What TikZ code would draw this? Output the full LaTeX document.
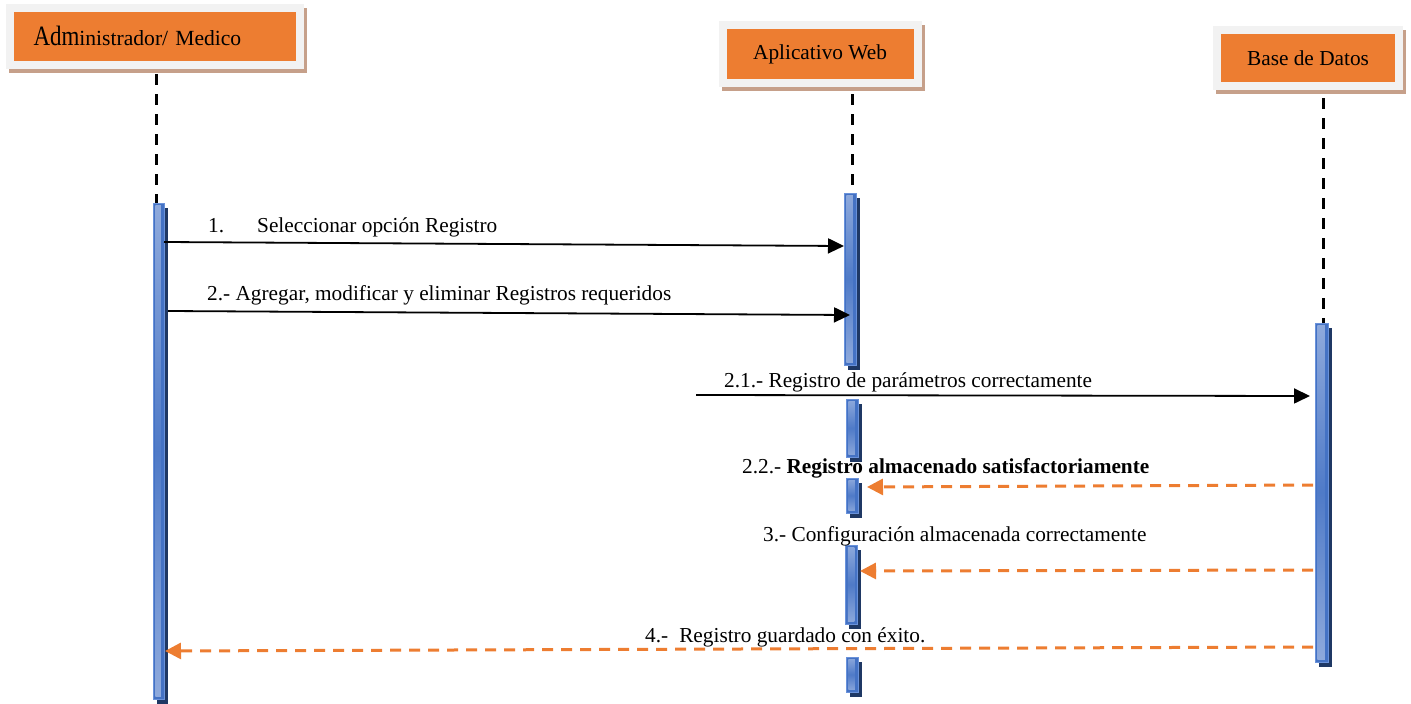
\documentclass[tikz,border=0pt]{standalone}
\usepackage{fontspec}
\setmainfont{Liberation Serif}
\usetikzlibrary{arrows.meta}
\definecolor{actorfill}{HTML}{ED7D31}
\definecolor{framegray}{HTML}{F2F2F2}
\definecolor{shadowtan}{RGB}{198,160,138}
\definecolor{barblue}{HTML}{4472C4}
\definecolor{barlight}{HTML}{8FAADC}
\definecolor{barborder}{HTML}{6A92DA}
\definecolor{barshadow}{HTML}{1F3864}
\definecolor{msgorange}{HTML}{ED7D31}
\begin{document}
\begin{tikzpicture}[x=1pt,y=-1pt,
  actor/.style={rectangle, fill=actorfill, draw=framegray, line width=8pt, inner sep=0pt,
    font=\fontsize{21.3}{24}\selectfont,
    preaction={draw=shadowtan, fill=shadowtan, line width=8pt, transform canvas={xshift=3pt,yshift=-4pt}}},
  actbar/.style={rectangle, inner sep=0pt, minimum width=12pt, fill=barblue, draw=barborder, line width=1pt,
    preaction={fill=barshadow, transform canvas={xshift=3.5pt,yshift=-5pt}},
    path picture={\shade[top color=barlight, bottom color=barlight, middle color=barblue!85!barlight]
      ([xshift=2.4pt,yshift=-2.4pt]path picture bounding box.north west) rectangle
      ([xshift=-3.2pt,yshift=2.4pt]path picture bounding box.south east);}},
  lifeline/.style={draw=black, line width=3pt, dash pattern=on 11pt off 9pt},
  msg/.style={draw=black, line width=1.8pt, -{Triangle[length=16pt,width=15pt]}},
  reply/.style={draw=msgorange, line width=3pt, dash pattern=on 11pt off 8pt,
    -{Triangle[length=16pt,width=16pt,fill=msgorange]}},
  lbl/.style={anchor=base west, inner sep=0pt, font=\fontsize{21.3}{24}\selectfont}]
\useasboundingbox (0,0) rectangle (1411,704);

% actors
\node[actor, minimum height=57pt, text width=242pt, inner xsep=24pt, align=left] (admin) at (154.5,36)
  {\scalebox{0.82}[1]{\fontsize{28}{30}\selectfont Adm}\fontsize{21.6}{24}\selectfont inistrador/ Medico};
\node[actor, minimum width=195pt, minimum height=57.5pt] (web) at (820,54) {Aplicativo Web};
\node[actor, minimum width=182.5pt, minimum height=56pt] (db) at (1308,58) {Base de Datos};

% activation bars
\node[actbar, minimum width=11pt, minimum height=496pt] (barA) at (158.5,451) {};
\node[actbar, minimum height=172pt] (barW1) at (850,279) {};
\node[actbar, minimum height=58pt] (barW2) at (852,428) {};
\node[actbar, minimum height=35pt] (barW3) at (852,495.5) {};
\node[actbar, minimum height=79pt] (barW4) at (851.5,584.5) {};
\node[actbar, minimum height=35pt] (barW5) at (852,674.5) {};
\node[actbar, minimum width=13pt, minimum height=339pt] (barB) at (1321.5,492.5) {};

% lifelines
\coordinate (la) at (156,74);
\coordinate (lw) at (852,94);
\coordinate (lb) at (1323,98);
\draw[lifeline] (la) -- (la |- barA.north);
\draw[lifeline] (lw) -- (lw |- barW1.north);
\draw[lifeline] (lb) -- (lb |- barB.north);

% message end points
\coordinate (m1s) at (164,242);  \coordinate (m1e) at (844,246);
\coordinate (m2s) at (168,311);  \coordinate (m2e) at (850,315);
\coordinate (m21s) at (696,395); \coordinate (m21e) at (1310,396);
\coordinate (m22s) at (1313,485); \coordinate (m22e) at (867,487);
\coordinate (m3s) at (1313,570); \coordinate (m3e) at (860,571);
\coordinate (m4s) at (1313,647); \coordinate (m4e) at (165,651);

\draw[msg] (m1s) -- (m1e);
\draw[msg] (m2s) -- (m2e);
\draw[msg] (m21s) -- (m21e);
\draw[reply] (m22s) -- (m22e);
\draw[reply] (m3s) -- (m3e);
\draw[reply] (m4s) -- (m4e);

% labels
\node[lbl] (t1) at (208,232) {1.\hspace{33pt}Seleccionar opción Registro};
\node[lbl] (t2) at (207,300) {2.- Agregar, modificar y eliminar Registros requeridos};
\node[lbl] (t21) at (724,387) {2.1.- Registro de parámetros correctamente};
\node[lbl] (t22) at (742,473) {2.2.- \textbf{Registro almacenado satisfactoriamente}};
\node[lbl] (t3) at (763,541) {3.- Configuración almacenada correctamente};
\node[lbl] (t4) at (645,642) {4.-\hspace{11pt}Registro guardado con éxito.};
\end{tikzpicture}
\end{document}
